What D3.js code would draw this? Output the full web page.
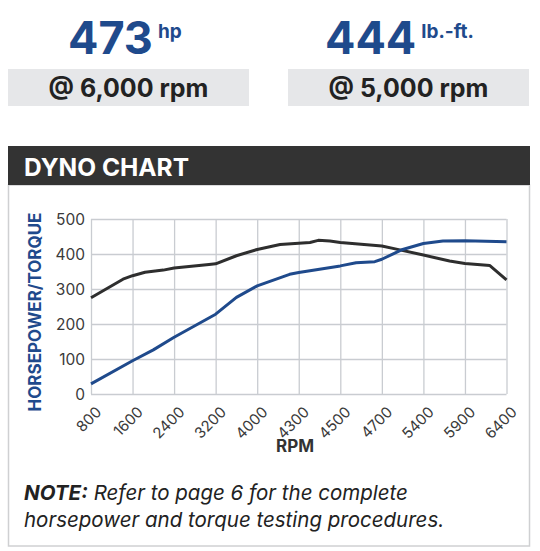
<!DOCTYPE html>
<html>
<head>
<meta charset="utf-8">
<script src="https://cdn.jsdelivr.net/npm/d3@7"></script>
<style>
  body { margin: 0; background: #fff; }
  svg { display: block; font-family: Inter, "Open Sans", sans-serif; }
</style>
</head>
<body>
<div class="dyno"></div>
<script>
// chart data
var rpmTicks = [800, 1600, 2400, 3200, 4000, 4300, 4500, 4700, 5400, 5900, 6400];
var valueTicks = [0, 100, 200, 300, 400, 500];

var torqueRpm = [800, 1416, 1600, 1840, 2192, 2400, 3072, 3200, 3600, 4000, 4165, 4300, 4354, 4394, 4450, 4500, 4600, 4700, 4945, 5400, 5715, 5900, 6200, 6400];
var torqueVals = [275, 328, 338, 348, 354, 360, 370, 372, 395, 413, 427, 431, 433, 439, 437, 433, 428, 423, 414, 397, 380, 373, 367, 326];

var hpRpm = [800, 1600, 2000, 2400, 3200, 3600, 4000, 4234, 4300, 4500, 4576, 4666, 4700, 5050, 5400, 5635, 5900, 6400];
var hpVals = [29, 95, 126, 162, 228, 276, 309, 342, 347, 366, 375, 378, 385, 413, 430, 437, 438, 435];

var peakHp = '473', peakHpRpm = '@ 6,000 rpm';
var peakTq = '444', peakTqRpm = '@ 5,000 rpm';

var W = 540, H = 551;
var blue = '#1f4a8c', dark = '#2e2e2e', grid = '#c9ccd1';

var svg = d3.select('.dyno').append('svg').attr('width', W).attr('height', H);

// --- peak figures ---
function peak(x0, boxW, big, unit, sub, bigX) {
	var t = svg.append('text').attr('x', bigX).attr('y', 54)
		.attr('fill', blue).attr('font-weight', 700);
	t.append('tspan').attr('font-size', 45).text(big);
	t.append('tspan').attr('font-size', 19).attr('dx', 5).attr('dy', -16).text(unit);

	svg.append('rect').attr('x', x0).attr('y', 69).attr('width', boxW).attr('height', 37)
		.attr('fill', '#e6e7e9');
	svg.append('text').attr('x', x0 + boxW / 2).attr('y', 97)
		.attr('text-anchor', 'middle').attr('font-size', 25).attr('font-weight', 700)
		.attr('fill', '#222').text(sub);
}
peak(8, 241, peakHp, 'hp', peakHpRpm, 68);
peak(288, 241, peakTq, 'lb.-ft.', peakTqRpm, 325);

// --- panel ---
svg.append('rect').attr('x', 8.5).attr('y', 185).attr('width', 521).attr('height', 361)
	.attr('fill', '#fff').attr('stroke', '#cfd0d2').attr('stroke-width', 1.5);
svg.append('rect').attr('x', 8).attr('y', 146).attr('width', 522).attr('height', 39)
	.attr('fill', '#333');
svg.append('text').attr('x', 24).attr('y', 176).attr('fill', '#fff')
	.attr('font-size', 24.5).attr('font-weight', 700).text('DYNO CHART');

// --- plot ---
var plot = { left: 91, right: 506.5, top: 219, bottom: 394 };

var xPoint = d3.scalePoint().domain(rpmTicks).range([plot.left, plot.right]);
var x = d3.scaleLinear().domain(rpmTicks).range(rpmTicks.map(xPoint));
var y = d3.scaleLinear().domain([0, 500]).range([plot.bottom, plot.top]);

var g = svg.append('g');

var yAxis = g.append('g').attr('transform', 'translate(' + plot.left + ',0)')
	.call(d3.axisLeft(y).tickValues(valueTicks).tickSize(-(plot.right - plot.left)).tickPadding(6));
var xAxis = g.append('g').attr('transform', 'translate(0,' + plot.bottom + ')')
	.call(d3.axisBottom(xPoint).tickSize(-(plot.bottom - plot.top)));

g.selectAll('.domain').remove();
g.selectAll('.tick line').attr('stroke', grid).attr('stroke-width', 1.3);
g.selectAll('.tick text').attr('font-family', 'Inter, sans-serif').attr('fill', '#3a3a3a');

yAxis.selectAll('text').attr('font-size', 15.5).attr('dy', '0.36em');
xAxis.selectAll('text')
	.attr('font-size', 15)
	.attr('text-anchor', 'end')
	.attr('y', 0).attr('dy', 0)
	.attr('transform', 'translate(11,19) rotate(-45)');

var line = d3.line().x(function(d) { return x(d[0]); }).y(function(d) { return y(d[1]); });

g.append('path').datum(d3.zip(torqueRpm, torqueVals))
	.attr('fill', 'none').attr('stroke', dark).attr('stroke-width', 3)
	.attr('stroke-linejoin', 'round').attr('d', line);
g.append('path').datum(d3.zip(hpRpm, hpVals))
	.attr('fill', 'none').attr('stroke', blue).attr('stroke-width', 3)
	.attr('stroke-linejoin', 'round').attr('d', line);

// axis titles
svg.append('text').attr('transform', 'translate(41,312) rotate(-90)')
	.attr('text-anchor', 'middle').attr('font-size', 17).attr('font-weight', 700)
	.attr('fill', blue).text('HORSEPOWER/TORQUE');
svg.append('text').attr('x', 295).attr('y', 452).attr('text-anchor', 'middle')
	.attr('font-size', 17).attr('font-weight', 700).attr('fill', '#333').text('RPM');

// --- note ---
var note = svg.append('text').attr('font-size', 20.5).attr('font-style', 'italic').attr('fill', '#222');
note.append('tspan').attr('x', 24).attr('y', 500).attr('font-weight', 700).text('NOTE:');
note.append('tspan').text(' Refer to page 6 for the complete');
note.append('tspan').attr('x', 24).attr('y', 527).text('horsepower and torque testing procedures.');
</script>
</body>
</html>
